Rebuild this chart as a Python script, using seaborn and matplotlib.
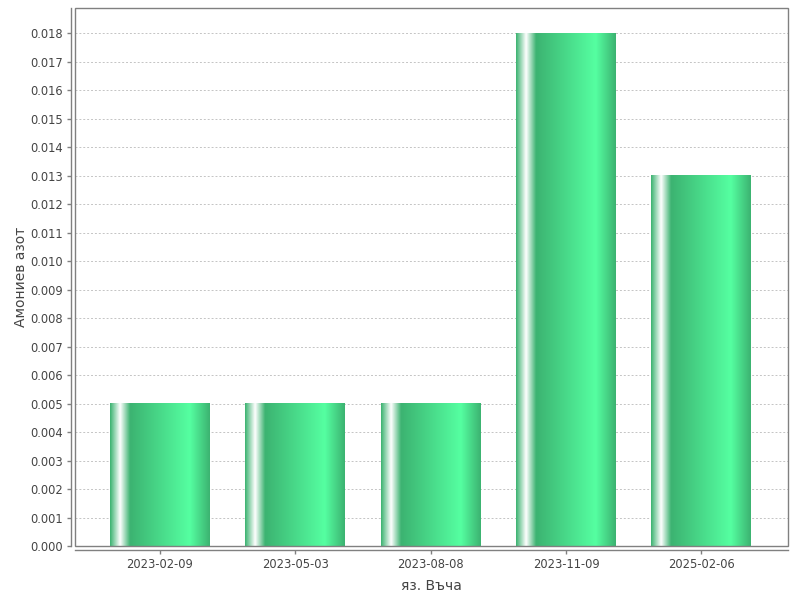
import numpy as np
import pandas as pd
import matplotlib
matplotlib.use("Agg")
import matplotlib.pyplot as plt
import seaborn as sns
from matplotlib.patches import Rectangle

dates = ["2023-02-09", "2023-05-03", "2023-08-08", "2023-11-09", "2025-02-06"]
values = [0.005, 0.005, 0.005, 0.018, 0.013]
y_ticks = [i / 1000 for i in range(0, 19)]
x_label = "яз. Въча"
y_label = "Амониев азот"

sns.set_theme(style="white")
plt.rcParams['font.family'] = ['DejaVu Sans']

df = pd.DataFrame({"date": dates, "value": values})

fig = plt.figure(figsize=(8, 6), dpi=100)
ax = fig.add_axes([75/800, 1 - 546/600, (788 - 75)/800, (546 - 8)/600])
sns.barplot(data=df, x="date", y="value", order=dates, ax=ax, width=0.738,
            color="#3cb371", edgecolor="none", linewidth=0, errorbar=None)

# gradient painter (JFreeChart-like)
c0 = np.array([60, 179, 113]) / 255
c1 = np.array([85, 255, 161]) / 255
wh = np.array([1.0, 1.0, 1.0])
stops = [(0.0, c0), (0.10, wh), (0.20, c0), (0.80, c1), (1.0, c0)]
n = 200
xs = np.linspace(0, 1, n)
grad = np.zeros((1, n, 3))
for ch in range(3):
    grad[0, :, ch] = np.interp(xs, [s[0] for s in stops], [s[1][ch] for s in stops])

for p in ax.patches:
    x0, y0 = p.get_x(), p.get_y()
    w, h = p.get_width(), p.get_height()
    p.set_facecolor("none")
    ax.imshow(grad, extent=[x0, x0 + w, y0, y0 + h], aspect="auto",
              interpolation="bilinear", zorder=2)

ax.set_xlim(-0.627, 4.64)
ax.set_ylim(0, 0.01889)
ax.set_yticks(y_ticks)
ax.set_yticklabels([f"{t:.3f}" for t in y_ticks])
ax.yaxis.grid(True, color="#c4c4c4", linestyle=(0, (2, 2)), linewidth=0.7)
ax.xaxis.grid(False)
ax.set_axisbelow(True)

for s in ["top", "right"]:
    ax.spines[s].set_visible(False)
for s in ["left", "bottom"]:
    ax.spines[s].set_position(("outward", 3))
    ax.spines[s].set_color("#808080")
    ax.spines[s].set_linewidth(1.0)

# plot outline
ax.add_patch(Rectangle((0, 0), 1, 1, transform=ax.transAxes, fill=False,
                       edgecolor="#808080", linewidth=1.0, zorder=5, clip_on=False))

ax.tick_params(axis="both", direction="out", length=3, width=1, color="#808080",
               labelsize=8.3, labelcolor="#444444", pad=2.5, left=True, bottom=True)
ax.set_xlabel(x_label, fontsize=10, color="#444444", labelpad=6)
ax.set_ylabel(y_label, fontsize=10, color="#444444", labelpad=2)

fig.savefig("out.png", dpi=100)
